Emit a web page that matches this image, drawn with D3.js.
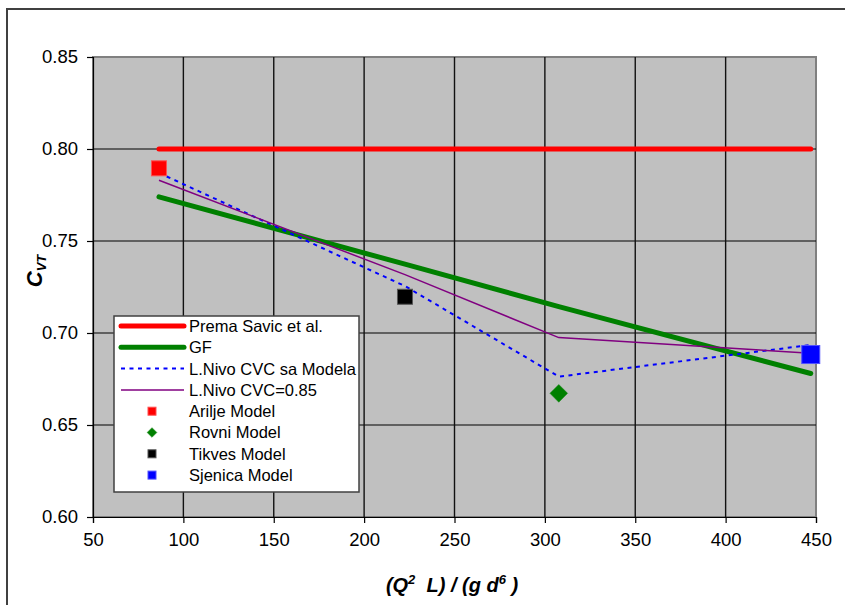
<!DOCTYPE html>
<html lang="en">
<head>
<meta charset="UTF-8">
<title>C_VT</title>
<script src="https://d3js.org/d3.v7.min.js"></script>
<style>
  body { margin: 0; background: #fff; }
  svg { display: block; font-family: "Liberation Sans", Arial, sans-serif; }
  .tick text { font-size: 18.5px; fill: #000; }
  .leg text { font-size: 16.5px; fill: #000; }
</style>
</head>
<body>
<svg width="845" height="605"></svg>
<script>
// line x positions (Q^2 L)/(g d^6)
const xLine  = [86.5, 222.6, 307.7, 447.1];
const savic  = [0.80, 0.80, 0.80, 0.80];
const gf     = [0.774, 0.7374, 0.7143, 0.678];
const nivoSa = [0.787, 0.7255, 0.6763, 0.6935];
const nivo85 = [0.783, 0.7317, 0.6975, 0.689];

const models = ["Arilje Model", "Rovni Model", "Tikves Model", "Sjenica Model"];
const modelX = [86.5, 307.7, 222.6, 447.1];
const modelY = [0.7895, 0.6672, 0.7197, 0.6883];

const xTicks = [50, 100, 150, 200, 250, 300, 350, 400, 450];
const yTicks = [0.60, 0.65, 0.70, 0.75, 0.80, 0.85];

const svg = d3.select("svg");
const x = d3.scaleLinear().domain([50, 450]).range([93, 816]);
const y = d3.scaleLinear().domain([0.60, 0.85]).range([517, 57]);

// outer chart frame
svg.append("rect").attr("x", 7).attr("y", 9).attr("width", 860).attr("height", 620)
  .attr("fill", "#fff").attr("stroke", "#404040").attr("stroke-width", 2);

// plot area
svg.append("rect").attr("x", 93).attr("y", 57).attr("width", 723).attr("height", 460)
  .attr("fill", "#c0c0c0").attr("stroke", "#808080").attr("stroke-width", 2);

// grid
svg.append("g").selectAll("line").data(yTicks.slice(1, -1)).join("line")
  .attr("x1", 93).attr("x2", 816).attr("y1", d => y(d)).attr("y2", d => y(d))
  .attr("stroke", "#000").attr("stroke-width", 1.2);
svg.append("g").selectAll("line").data(xTicks.slice(1, -1)).join("line")
  .attr("y1", 57).attr("y2", 517).attr("x1", d => x(d)).attr("x2", d => x(d))
  .attr("stroke", "#111").attr("stroke-width", 1.4);

// axes
const yAxis = svg.append("g").attr("transform", "translate(93,0)")
  .call(d3.axisLeft(y).tickValues(yTicks).tickFormat(d3.format(".2f")).tickSize(6).tickPadding(9));
const xAxis = svg.append("g").attr("transform", "translate(0,517)")
  .call(d3.axisBottom(x).tickValues(xTicks).tickSize(6).tickPadding(10));
[yAxis, xAxis].forEach(a => {
  a.select(".domain").attr("stroke", "#000").attr("stroke-width", 1.2);
  a.selectAll(".tick line").attr("stroke", "#000").attr("stroke-width", 1.2);
});

// series lines
const lineGen = vals => d3.line().x((d, i) => x(xLine[i])).y(d => y(d))(vals);
svg.append("path").attr("d", lineGen(savic)).attr("fill", "none")
  .attr("stroke", "#ff0000").attr("stroke-width", 5).attr("stroke-linecap", "round");
svg.append("path").attr("d", lineGen(gf)).attr("fill", "none")
  .attr("stroke", "#008000").attr("stroke-width", 5).attr("stroke-linecap", "round");
svg.append("path").attr("d", lineGen(nivoSa)).attr("fill", "none")
  .attr("stroke", "#0000ff").attr("stroke-width", 2).attr("stroke-dasharray", "4,4.5");
svg.append("path").attr("d", lineGen(nivo85)).attr("fill", "none")
  .attr("stroke", "#800080").attr("stroke-width", 1.5);

// model markers
function marker(g, i, s) {
  if (i === 1) {
    g.append("path").attr("d", d3.symbol(d3.symbolDiamond2, s * s * 0.5)())
      .attr("fill", "#008000").attr("stroke", "#1a8a1a").attr("stroke-width", 0.5);
  } else {
    const col = ["#ff0000", null, "#000000", "#0000ff"][i];
    const lite = ["#ff5050", null, "#555555", "#5050ff"][i];
    g.append("rect").attr("x", -s / 2).attr("y", -s / 2).attr("width", s).attr("height", s)
      .attr("fill", col).attr("stroke", lite).attr("stroke-width", 1);
  }
}
const mSize = [15, 20, 15, 18];
models.forEach((m, i) => {
  const g = svg.append("g").attr("transform", `translate(${x(modelX[i])},${y(modelY[i])})`);
  marker(g, i, mSize[i]);
});

// legend
const leg = svg.append("g").attr("class", "leg");
leg.append("rect").attr("x", 114).attr("y", 316).attr("width", 245).attr("height", 176)
  .attr("fill", "#fff").attr("stroke", "#404040").attr("stroke-width", 1.5);
const lineItems = [
  { name: "Prema Savic et al.", color: "#ff0000", w: 5, dash: null },
  { name: "GF", color: "#008000", w: 5, dash: null },
  { name: "L.Nivo CVC sa Modela", color: "#0000ff", w: 2, dash: "4,4.5" },
  { name: "L.Nivo CVC=0.85", color: "#800080", w: 1.5, dash: null }
];
const rowY = i => 326 + i * 21.3;
lineItems.forEach((it, i) => {
  leg.append("line").attr("x1", 121).attr("x2", 184).attr("y1", rowY(i)).attr("y2", rowY(i))
    .attr("stroke", it.color).attr("stroke-width", it.w)
    .attr("stroke-linecap", it.w > 3 ? "round" : "butt")
    .attr("stroke-dasharray", it.dash);
  leg.append("text").attr("x", 189).attr("y", rowY(i)).attr("dy", "0.36em").text(it.name);
});
models.forEach((m, i) => {
  const ry = rowY(i + 4);
  const g = leg.append("g").attr("transform", `translate(152,${ry})`);
  marker(g, i, i === 1 ? 11 : 8);
  leg.append("text").attr("x", 189).attr("y", ry).attr("dy", "0.36em").text(m);
});

// axis titles
const xt = svg.append("text").attr("x", 452).attr("y", 592).attr("text-anchor", "middle")
  .attr("font-size", 20).attr("font-weight", "bold").attr("font-style", "italic")
  .attr("xml:space", "preserve");
xt.append("tspan").text("(Q");
xt.append("tspan").attr("dy", -8).attr("font-size", 13).text("2");
xt.append("tspan").attr("dy", 8).text("  L) / (g d");
xt.append("tspan").attr("dy", -8).attr("font-size", 13).text("6");
xt.append("tspan").attr("dy", 8).text(" )");

const yt = svg.append("text").attr("transform", "translate(42,271) rotate(-90)")
  .attr("text-anchor", "middle").attr("font-size", 22).attr("font-weight", "bold")
  .attr("font-style", "italic");
yt.append("tspan").text("C");
yt.append("tspan").attr("dy", 4).attr("font-size", 13).text("VT");
</script>
</body>
</html>
